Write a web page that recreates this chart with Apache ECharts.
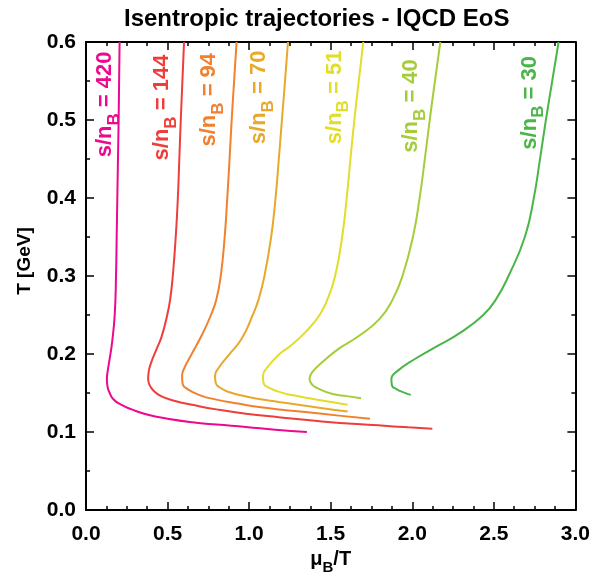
<!DOCTYPE html>
<html><head><meta charset="utf-8">
<script src="https://cdn.jsdelivr.net/npm/echarts@6/dist/echarts.min.js"></script>
<style>html,body{margin:0;padding:0;background:#fff}#c{width:593px;height:580px}</style>
</head><body><div id="c"></div><script>
const ratios = ['420', '144', '94', '70', '51', '40', '30'];
const colors = ['#EC098D', '#EE3E3B', '#F1812E', '#E8A82A', '#E2DD28', '#A5CD3A', '#4AB64A'];

const curve420 = [[0.206,0.6],[0.203,0.55],[0.200,0.5],[0.196,0.45],[0.192,0.4],[0.188,0.35],[0.184,0.3],[0.176,0.25],[0.160,0.215],[0.146,0.195],[0.133,0.178],[0.128,0.168],[0.132,0.158],[0.143,0.151],[0.168,0.142],[0.215,0.135],[0.28,0.129],[0.38,0.122],[0.50,0.117],[0.65,0.1125],[0.80,0.1095],[0.98,0.1065],[1.16,0.103],[1.354,0.100]];
const curve144 = [[0.601,0.6],[0.591,0.55],[0.581,0.5],[0.572,0.45],[0.563,0.4],[0.550,0.35],[0.532,0.3],[0.516,0.27],[0.498,0.25],[0.463,0.222],[0.430,0.205],[0.401,0.190],[0.385,0.178],[0.381,0.168],[0.390,0.160],[0.414,0.153],[0.46,0.146],[0.54,0.140],[0.66,0.1345],[0.80,0.129],[0.98,0.1235],[1.181,0.119],[1.446,0.1136],[1.792,0.1085],[1.975,0.106],[2.123,0.1042]];
const curve94 = [[0.923,0.6],[0.908,0.55],[0.893,0.5],[0.880,0.45],[0.866,0.4],[0.850,0.35],[0.826,0.3],[0.799,0.27],[0.766,0.25],[0.712,0.225],[0.643,0.198],[0.605,0.183],[0.589,0.172],[0.592,0.162],[0.622,0.155],[0.70,0.147],[0.80,0.1415],[0.93,0.1365],[1.06,0.132],[1.20,0.1285],[1.344,0.1255],[1.55,0.121],[1.741,0.117]];
const curve70 = [[1.238,0.6],[1.220,0.55],[1.201,0.5],[1.182,0.45],[1.162,0.4],[1.135,0.35],[1.094,0.3],[1.058,0.27],[1.022,0.25],[0.955,0.22],[0.868,0.197],[0.816,0.183],[0.791,0.172],[0.795,0.163],[0.82,0.157],[0.88,0.151],[0.95,0.147],[1.05,0.1425],[1.18,0.1385],[1.30,0.135],[1.45,0.1305],[1.604,0.1263]];
const curve51 = [[1.700,0.6],[1.672,0.55],[1.645,0.5],[1.621,0.45],[1.598,0.4],[1.570,0.35],[1.527,0.3],[1.480,0.27],[1.432,0.25],[1.345,0.228],[1.262,0.212],[1.181,0.199],[1.112,0.183],[1.085,0.172],[1.088,0.163],[1.13,0.156],[1.20,0.1505],[1.27,0.147],[1.36,0.1435],[1.446,0.1405],[1.604,0.1349]];
const curve40 = [[2.172,0.6],[2.139,0.55],[2.107,0.5],[2.077,0.45],[2.045,0.4],[2.004,0.35],[1.940,0.3],[1.880,0.27],[1.800,0.245],[1.672,0.223],[1.548,0.2065],[1.446,0.189],[1.392,0.178],[1.370,0.168],[1.385,0.161],[1.42,0.156],[1.507,0.149],[1.60,0.146],[1.686,0.1434]];
const curve30 = [[2.897,0.6],[2.858,0.55],[2.819,0.5],[2.783,0.45],[2.745,0.4],[2.690,0.35],[2.590,0.3],[2.513,0.27],[2.435,0.25],[2.300,0.228],[2.158,0.2106],[2.016,0.1936],[1.914,0.179],[1.872,0.168],[1.875,0.160],[1.903,0.155],[1.95,0.1505],[1.991,0.1476]];
const curves = [curve420, curve144, curve94, curve70, curve51, curve40, curve30];

// label anchors (data coords: mu_B/T, T)
const labelAnchors = [[0.119,0.520],[0.466,0.516],[0.756,0.526],[1.061,0.529],[1.524,0.529],[1.994,0.518],[2.720,0.522]];

const xTickLabels = ['0.0','0.5','1.0','1.5','2.0','2.5','3.0'];
const yTickLabels = ['0.0','0.1','0.2','0.3','0.4','0.5','0.6'];

const FONT = 'Liberation Sans, Arial, sans-serif';
const chart = echarts.init(document.getElementById('c'), null, {renderer: 'canvas'});

function axisCommon(extra) {
  return Object.assign({
    axisLine: {show: true, onZero: false, lineStyle: {color: '#000', width: 2}},
    axisTick: {show: true, inside: true, length: 8, lineStyle: {color: '#000', width: 1.5}},
    splitLine: {show: false}
  }, extra);
}

const option = {
  backgroundColor: '#fff',
  animation: false,
  title: {
    text: 'Isentropic trajectories - lQCD EoS',
    left: 119, top: 2,
    textStyle: {fontFamily: FONT, fontWeight: 'bold', fontSize: 24, color: '#000'}
  },
  grid: {left: 86, right: 15, top: 42, bottom: 68, containLabel: false},
  xAxis: [
    axisCommon({
      type: 'value', min: 0, max: 3, interval: 0.5, position: 'bottom',
      minorTick: {show: true, splitNumber: 4, length: 4, lineStyle: {color: '#000', width: 1.5}},
      axisLabel: {show: true, margin: 14, fontFamily: FONT, fontWeight: 'bold', fontSize: 21, color: '#000',
        formatter: (v) => xTickLabels[Math.round(v / 0.5)]},
      name: '{a|μ}{b|B}{a|/T}', nameLocation: 'middle', nameGap: 33, nameMoveOverlap: false,
      nameTextStyle: {rich: {
        a: {fontFamily: FONT, fontWeight: 'bold', fontSize: 20, color: '#000', lineHeight: 32, verticalAlign: 'middle'},
        b: {fontFamily: FONT, fontWeight: 'bold', fontSize: 15, color: '#000', lineHeight: 32, verticalAlign: 'bottom'}
      }}
    }),
    axisCommon({
      type: 'value', min: 0, max: 3, interval: 0.5, position: 'top',
      minorTick: {show: true, splitNumber: 4, length: 4, lineStyle: {color: '#000', width: 1.5}},
      axisLabel: {show: false}
    })
  ],
  yAxis: [
    axisCommon({
      type: 'value', min: 0, max: 0.6, interval: 0.1, position: 'left',
      minorTick: {show: true, splitNumber: 2, length: 4, lineStyle: {color: '#000', width: 1.5}},
      axisLabel: {show: true, margin: 10, fontFamily: FONT, fontWeight: 'bold', fontSize: 21, color: '#000',
        formatter: (v) => yTickLabels[Math.round(v / 0.1)]},
      name: 'T [GeV]', nameLocation: 'middle', nameGap: 52, nameRotate: 90, nameMoveOverlap: false,
      nameTextStyle: {fontFamily: FONT, fontWeight: 'bold', fontSize: 19, color: '#000', padding: [0, 0, 0, 30]}
    }),
    axisCommon({
      type: 'value', min: 0, max: 0.6, interval: 0.1, position: 'right',
      minorTick: {show: true, splitNumber: 2, length: 4, lineStyle: {color: '#000', width: 1.5}},
      axisLabel: {show: false}
    })
  ],
  series: curves.map((d, i) => ({
    type: 'line',
    name: 's/nB = ' + ratios[i],
    xAxisIndex: 0, yAxisIndex: 0,
    data: d,
    showSymbol: false,
    smooth: 0.5,
    clip: true,
    lineStyle: {color: colors[i], width: 2},
    itemStyle: {color: colors[i]},
    z: 3
  }))
};
chart.setOption(option);

const graphics = labelAnchors.map((p, i) => {
  const px = chart.convertToPixel({gridIndex: 0}, p);
  return {
    type: 'text',
    x: px[0], y: px[1],
    rotation: Math.PI / 2,
    z: 10,
    style: {
      text: '{a|s/n}{b|B}{a| = ' + ratios[i] + '}',
      align: 'center', verticalAlign: 'middle',
      rich: {
        a: {fontFamily: FONT, fontWeight: 'bold', fontSize: 22, fill: colors[i], lineHeight: 35, verticalAlign: 'middle'},
        b: {fontFamily: FONT, fontWeight: 'bold', fontSize: 17, fill: colors[i], lineHeight: 35, verticalAlign: 'bottom'}
      }
    }
  };
});
chart.setOption({graphic: graphics});
</script></body></html>
